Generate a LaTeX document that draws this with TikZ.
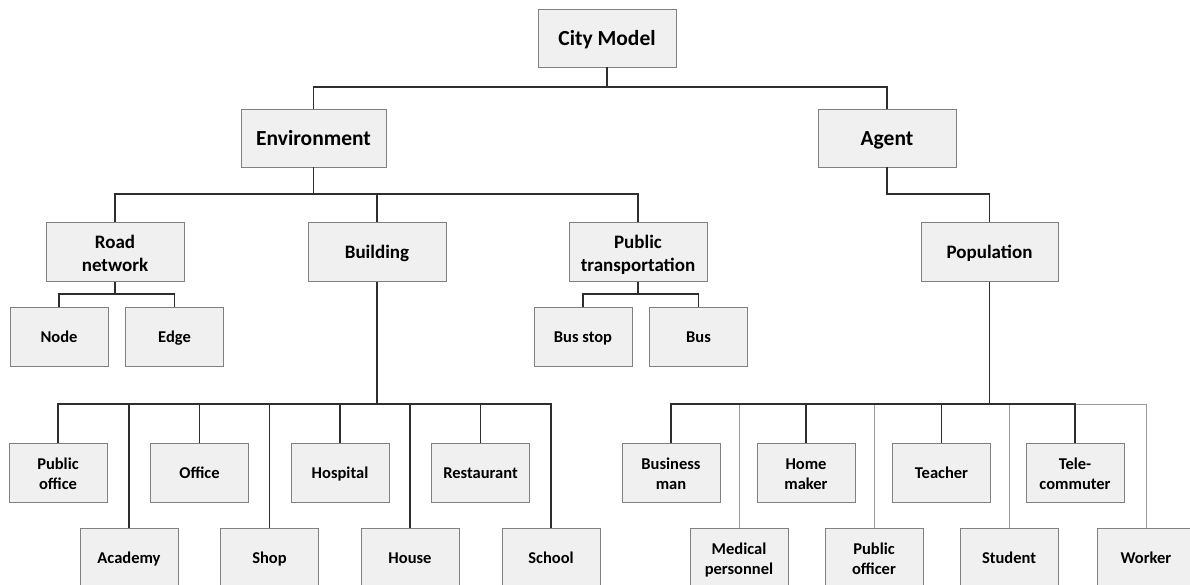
\documentclass[tikz,border=0pt]{standalone}
\usepackage{fontspec}
\setmainfont{Carlito}
\newcommand\boxstrut{\rule[-0.2\baselineskip]{0pt}{\baselineskip}}
\newcommand\twol[2]{\raisebox{-3pt}[\height][\depth]{\begin{tabular}{@{}c@{}}#1\\#2\end{tabular}}}
\begin{document}
\begin{tikzpicture}[x=1pt,y=-1pt,
  box/.style={draw=boxline,fill=boxfill,line width=0.9pt,inner sep=0pt,align=center,text=black,font=\bfseries,
    execute at begin node={\boxstrut},execute at end node={\boxstrut}},
  topbox/.style={box,minimum height=58pt,font=\bfseries\fontsize{21.5}{25}\selectfont},
  midbox/.style={box,minimum height=59pt,minimum width=138pt,font=\bfseries\fontsize{19}{23}\selectfont},
  leaf/.style={box,minimum height=59pt,minimum width=98pt,font=\bfseries\fontsize{16.5}{20}\selectfont},
  link/.style={draw=linedark,line width=1.3pt},
  lightlink/.style={draw=linelight,line width=1pt}]
\definecolor{boxfill}{HTML}{F0F0F0}
\definecolor{boxline}{HTML}{808080}
\definecolor{linedark}{HTML}{2E2E2E}
\definecolor{linelight}{HTML}{9A9A9A}
\useasboundingbox[fill=white] (0,0) rectangle (1190,584);

% top levels
\node[topbox,minimum width=138pt] (city) at (607,38) {City Model};
\node[topbox,minimum width=145pt] (env) at (313.5,138) {Environment};
\node[topbox,minimum width=138pt] (agent) at (887,138) {Agent};

% second level
\node[midbox] (road) at (115,252) {\twol{Road}{network}};
\node[midbox] (building) at (377,252) {Building};
\node[midbox] (pubtrans) at (638,252) {\twol{Public}{transportation}};
\node[midbox,minimum width=137pt] (population) at (989.5,252) {Population};

% road / transport leaves
\node[leaf] (nodeN) at (59,336.5) {Node};
\node[leaf] (edge) at (174.5,336.5) {Edge};
\node[leaf] (busstop) at (583,336.5) {Bus stop};
\node[leaf] (bus) at (698.5,336.5) {Bus};

% building leaves
\node[leaf] (puboffice) at (58,472.5) {\twol{Public}{office}};
\node[leaf] (office) at (199.5,472.5) {Office};
\node[leaf] (hospital) at (340,472.5) {Hospital};
\node[leaf] (restaurant) at (480.5,472.5) {Restaurant};
\node[leaf] (academy) at (129,557.5) {Academy};
\node[leaf] (shop) at (269.5,557.5) {Shop};
\node[leaf] (house) at (410,557.5) {House};
\node[leaf] (school) at (551,557.5) {School};

% population leaves
\node[leaf] (business) at (671,472.5) {\twol{Business}{man}};
\node[leaf] (home) at (806,472.5) {\twol{Home}{maker}};
\node[leaf] (teacher) at (941.5,472.5) {Teacher};
\node[leaf] (tele) at (1075,472.5) {\twol{Tele-}{commuter}};
\node[leaf] (medical) at (739,557.5) {\twol{Medical}{personnel}};
\node[leaf] (puborr) at (874,557.5) {\twol{Public}{officer}};
\node[leaf] (student) at (1009,557.5) {Student};
\node[leaf] (worker) at (1146,557.5) {Worker};

% bus coordinates
\coordinate (cb) at (607,87);
\coordinate (eb) at (313.5,194);
\coordinate (ab) at (887,194);
\coordinate (rb) at (115,294);
\coordinate (tb) at (638,294);
\coordinate (bb) at (377,404);
\coordinate (pb) at (989.5,404);

% connectors
\draw[link] (city.south) -- (cb) -| (env.north);
\draw[link] (cb) -| (agent.north);

\draw[link] (env.south) -- (eb) -| (road.north);
\draw[link] (eb) -| (building.north);
\draw[link] (eb) -| (pubtrans.north);

\draw[link] (agent.south) -- (ab) -| (population.north);

\draw[link] (road.south) -- (rb) -| (nodeN.north);
\draw[link] (rb) -| (edge.north);
\draw[link] (pubtrans.south) -- (tb) -| (busstop.north);
\draw[link] (tb) -| (bus.north);

\draw[link] (building.south) -- (bb) -| (puboffice.north);
\draw[link] (bb) -| (office.north);
\draw[link] (bb) -| (hospital.north);
\draw[link] (bb) -| (restaurant.north);
\draw[link] (bb) -| (academy.north);
\draw[link] (bb) -| (shop.north);
\draw[link] (bb) -| (house.north);
\draw[link] (bb) -| (school.north);

\draw[lightlink] (pb) -| (medical.north);
\draw[lightlink] (pb) -| (puborr.north);
\draw[lightlink] (pb) -| (student.north);
\draw[lightlink] (pb) -| (worker.north);
\draw[link] (population.south) -- (pb) -| (business.north);
\draw[link] (pb) -| (home.north);
\draw[link] (pb) -| (teacher.north);
\draw[link] (pb) -| (tele.north);
\end{tikzpicture}
\end{document}
